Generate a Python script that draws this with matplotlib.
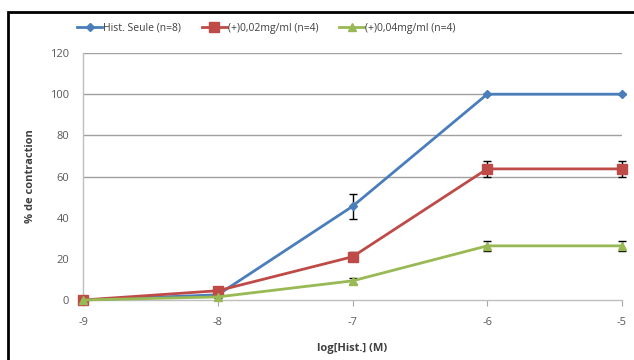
# Courbes dose-réponse histamine
import numpy as np
import matplotlib.pyplot as plt
import matplotlib.patches as patches

plt.rcParams['font.family'] = ['Open Sans', 'DejaVu Sans']
plt.rcParams['axes.unicode_minus'] = False

# Data
log_conc = [-9, -8, -7, -6, -5]
labels = ['Hist. Seule (n=8)', '(+)0,02mg/ml (n=4)', '(+)0,04mg/ml (n=4)']
hist_seule = [0, 2.5, 45.5, 100, 100]
hist_seule_err = [0, 0.5, 6, 0, 0]
dose_002 = [0, 4.5, 21, 63.7, 63.7]
dose_002_err = [0, 0.8, 2.2, 3.8, 3.8]
dose_004 = [0, 1.5, 9.3, 26.3, 26.3]
dose_004_err = [0, 0.5, 1.5, 2.5, 2.5]

colors = ['#4A7EBB', '#BE4B48', '#98B954']
markers = ['D', 's', '^']
msizes = [4, 6.5, 6]

fig = plt.figure(figsize=(6.34, 3.6), dpi=100)
ax = fig.add_axes([0.131, 0.1667, 0.850, 0.686])

series = [(hist_seule, hist_seule_err), (dose_002, dose_002_err), (dose_004, dose_004_err)]
for (vals, err), lab, c, m, ms in zip(series, labels, colors, markers, msizes):
    ax.errorbar(log_conc, vals, yerr=err, color=c, marker=m, markersize=ms,
                linewidth=2, label=lab, ecolor='black', elinewidth=1,
                capsize=3, capthick=1, clip_on=False, zorder=3)

ax.set_xlim(-9, -5)
ax.set_ylim(0, 120)
ax.set_xticks(log_conc)
ax.set_yticks(np.arange(0, 121, 20))
ax.tick_params(axis='both', labelsize=8, colors='#595959')
ax.tick_params(axis='y', length=0, pad=10)
ax.tick_params(axis='x', length=4, color='#A6A6A6', pad=8)

# grid only visible at the upper levels like in the original
ax.yaxis.grid(True, color='#A0A0A0', linewidth=1)
for val, gl in zip(ax.get_yticks(), ax.yaxis.get_gridlines()):
    if val < 60:
        gl.set_visible(False)
ax.set_axisbelow(True)

for s in ['top', 'right']:
    ax.spines[s].set_visible(False)
for s in ['left', 'bottom']:
    ax.spines[s].set_color('#BFBFBF')
    ax.spines[s].set_linewidth(1)

ax.set_ylabel('% de contraction', fontsize=8, fontweight='bold', color='#404040', labelpad=10)
ax.set_xlabel('log[Hist.] (M)', fontsize=8, fontweight='bold', color='#404040', labelpad=11)

handles, labs = ax.get_legend_handles_labels()
handles = [h[0] for h in handles]
fig.legend(handles, labs, loc='center', bbox_to_anchor=(0.42, 0.922), ncol=3,
           frameon=False, fontsize=7.5, handlelength=2.4, handletextpad=0.1,
           columnspacing=2.0, labelcolor='#404040')

# black frame of the chart area (cropped at right and bottom)
fig.patches.append(patches.Rectangle((8 / 634, -0.1), 1.2, 1 - 12 / 360 + 0.1,
                                     transform=fig.transFigure, fill=False,
                                     edgecolor='black', linewidth=2))

fig.savefig('out.png', dpi=100)
